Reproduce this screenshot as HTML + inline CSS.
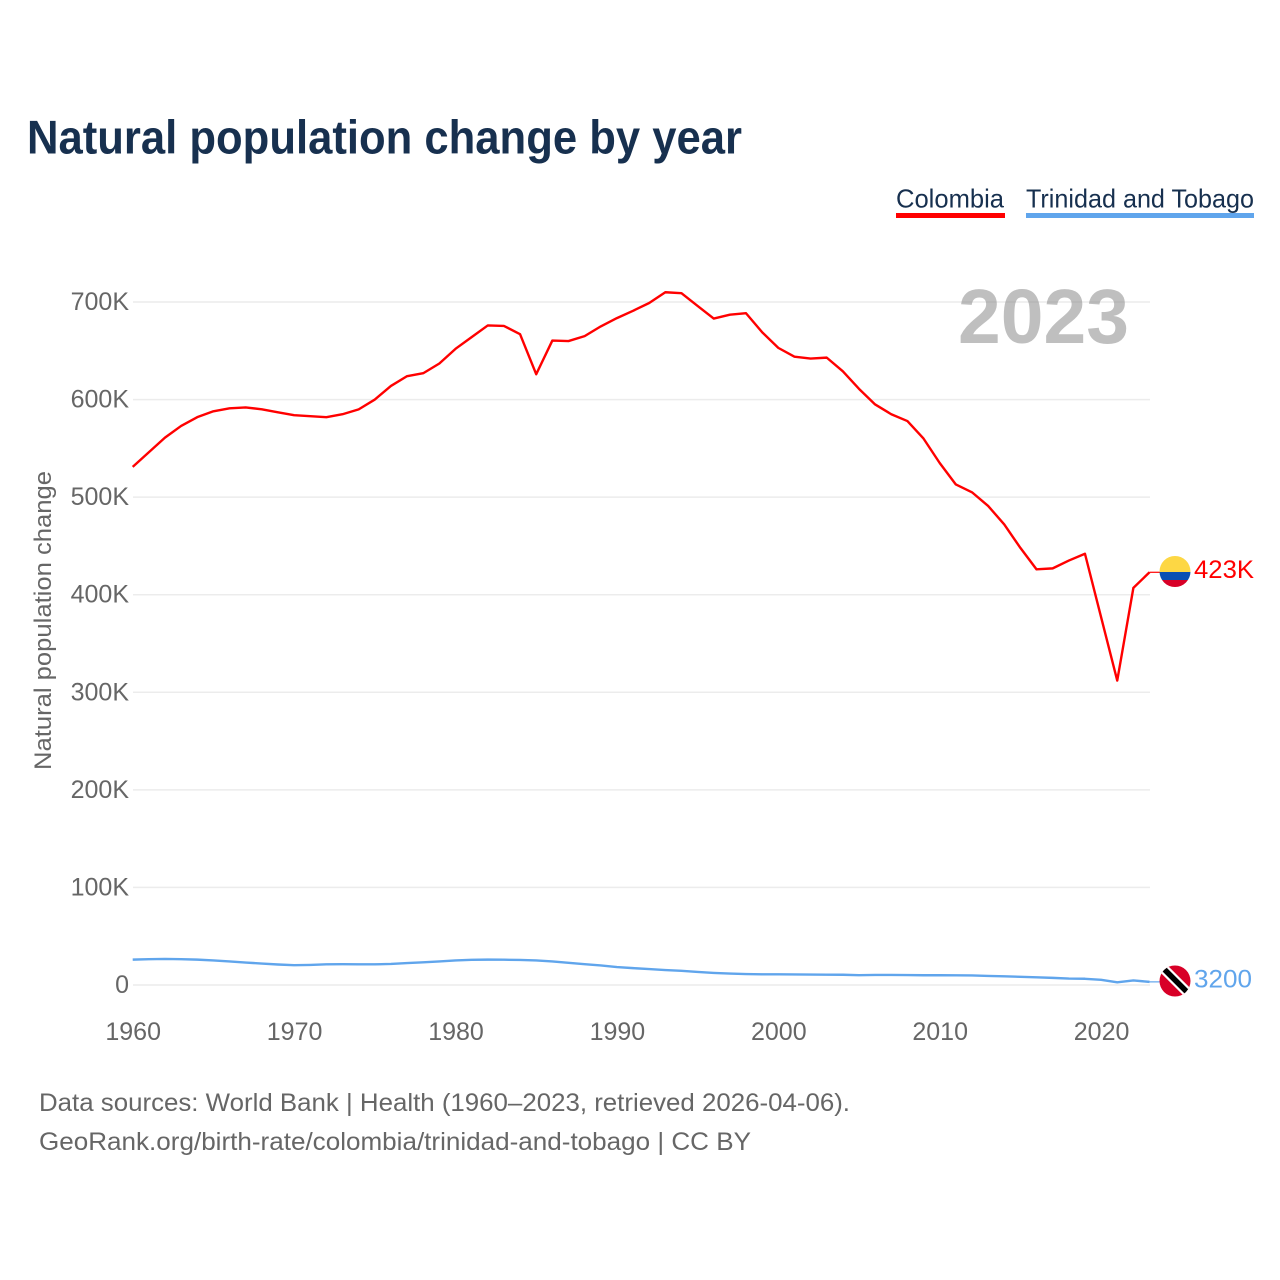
<!DOCTYPE html>
<html lang="en">
<head>
<meta charset="utf-8">
<title>Natural population change by year</title>
<style>
html,body{margin:0;padding:0;background:#fff;width:1280px;height:1280px;overflow:hidden}
svg{display:block}
text{font-family:"Liberation Sans",sans-serif}
.tick{font-size:25px;fill:#666}
</style>
</head>
<body>
<svg id="chart" width="1280" height="1280" viewBox="0 0 1280 1280" xmlns="http://www.w3.org/2000/svg">
  <defs>
    <clipPath id="clip-co"><circle cx="1175" cy="571.5" r="15.5"/></clipPath>
    <clipPath id="clip-tt"><circle cx="1175" cy="981" r="15.5"/></clipPath>
  </defs>
  <text x="27" y="153.5" font-size="47" font-weight="700" fill="#17304f" textLength="715" lengthAdjust="spacingAndGlyphs">Natural population change by year</text>

  <g id="grid"></g>
  <g id="yticks"></g>
  <g id="xticks"></g>

  <text transform="translate(51,770) rotate(-90)" font-size="24" fill="#666" textLength="299" lengthAdjust="spacingAndGlyphs">Natural population change</text>

  <text x="958" y="343" font-size="77" font-weight="700" fill="#808080" fill-opacity="0.5" textLength="171" lengthAdjust="spacingAndGlyphs">2023</text>

  <g>
    <text x="896" y="207.5" font-size="26" fill="#17304f" textLength="108" lengthAdjust="spacingAndGlyphs">Colombia</text>
    <rect x="896" y="213" width="109" height="5" fill="#ff0000"/>
    <text x="1026" y="207.5" font-size="26" fill="#17304f" textLength="228" lengthAdjust="spacingAndGlyphs">Trinidad and Tobago</text>
    <rect x="1026" y="213" width="228" height="5" fill="#60a5ec"/>
  </g>

  <path id="line-colombia" fill="none" stroke="#ff0000" stroke-width="2.4" stroke-linejoin="round"/>
  <path id="line-trinidad" fill="none" stroke="#60a5ec" stroke-width="2.4" stroke-linejoin="round"/>
  <path id="connector-colombia" fill="none" stroke="#ff0000" stroke-width="1.2"/>
  <path id="connector-trinidad" fill="none" stroke="#60a5ec" stroke-width="1.2"/>

  <g clip-path="url(#clip-co)">
    <rect x="1159" y="555" width="32" height="17" fill="#fdd744"/>
    <rect x="1159" y="572" width="32" height="8" fill="#0a50b4"/>
    <rect x="1159" y="580" width="32" height="9" fill="#d80027"/>
  </g>
  <g clip-path="url(#clip-tt)">
    <rect x="1159" y="965" width="32" height="32" fill="#d80027"/>
    <line x1="1163" y1="968" x2="1187" y2="992" stroke="#fff" stroke-width="10"/>
    <line x1="1163" y1="968" x2="1187" y2="992" stroke="#000" stroke-width="5.5"/>
  </g>

  <text id="value-colombia" x="1194" y="578" font-size="25" fill="#ff0000" textLength="60" lengthAdjust="spacingAndGlyphs"></text>
  <text id="value-trinidad" x="1194" y="987.5" font-size="25" fill="#60a5ec" textLength="58" lengthAdjust="spacingAndGlyphs"></text>

  <text x="39" y="1111" font-size="25" fill="#666" textLength="811" lengthAdjust="spacingAndGlyphs">Data sources: World Bank | Health (1960–2023, retrieved 2026-04-06).</text>
  <text x="39" y="1150" font-size="25" fill="#666" textLength="712" lengthAdjust="spacingAndGlyphs">GeoRank.org/birth-rate/colombia/trinidad-and-tobago | CC BY</text>
</svg>
<script>
const firstYear = 1960;
const xTickYears = [1960, 1970, 1980, 1990, 2000, 2010, 2020];
const yTickValues = [0, 100, 200, 300, 400, 500, 600, 700];
const yTickLabels = ["0", "100K", "200K", "300K", "400K", "500K", "600K", "700K"];
const colombiaValues = [531,546,561,573,582,588,591,592,590,587,584,583,582,585,590,600,614,624,627,637,652,664,676,675.5,667,626,660.5,660,665,675,683.5,691,699,710,709,696,683,687,688.5,669,653,644,642,643,629,611,595,585,578,560,535,513,505,491,472,448,426,427,435,442,377,312,407,423];
const trinidadValues = [26,26.5,26.7,26.5,26,25.2,24.2,23,22,21,20.3,20.6,21.2,21.3,21.2,21.2,21.6,22.5,23.2,24.2,25.2,25.8,26,25.9,25.7,25.2,24.2,22.7,21.3,20,18.4,17.3,16.3,15.3,14.5,13.4,12.4,11.7,11.2,11,10.9,10.8,10.7,10.6,10.5,10.1,10.3,10.3,10.2,10,10,9.9,9.8,9.3,8.9,8.4,7.9,7.3,6.6,6.4,5.3,2.7,4.7,3.2];
const colombiaEndLabel = "423K";
const trinidadEndLabel = "3200";

function xScale(year) { return 132.7 + (year - 1960) * 16.14; }
function yScale(value) { return 985 - value * 0.9757; }
function linePath(values) {
  return values.map(function (v, i) {
    return (i ? "L" : "M") + xScale(firstYear + i).toFixed(2) + " " + yScale(v).toFixed(2);
  }).join("");
}
const NS = "http://www.w3.org/2000/svg";
const grid = document.getElementById("grid");
const yticks = document.getElementById("yticks");
const xticks = document.getElementById("xticks");

yTickValues.forEach(function (v, i) {
  const line = document.createElementNS(NS, "line");
  
  
  line.setAttribute("x1", 133);
  line.setAttribute("x2", 1150);
  line.setAttribute("y1", yScale(v));
  line.setAttribute("y2", yScale(v));
  line.setAttribute("stroke", "#ececec");
  line.setAttribute("stroke-width", "1.5");
  grid.appendChild(line);

  const t = document.createElementNS(NS, "text");
  
  
  t.setAttribute("class", "tick");
  t.setAttribute("x", 129);
  t.setAttribute("y", yScale(v) + 8);
  t.setAttribute("text-anchor", "end");
  t.textContent = yTickLabels[i];
  yticks.appendChild(t);
});

xTickYears.forEach(function (year) {
  const t = document.createElementNS(NS, "text");
  
  
  t.setAttribute("class", "tick");
  t.setAttribute("x", xScale(year) + 0.5);
  t.setAttribute("y", 1040);
  t.setAttribute("text-anchor", "middle");
  t.textContent = year;
  xticks.appendChild(t);
});

document.getElementById("line-colombia").setAttribute("d", linePath(colombiaValues));
document.getElementById("line-trinidad").setAttribute("d", linePath(trinidadValues));

const lastYear = firstYear + colombiaValues.length - 1;
const lastCo = colombiaValues[colombiaValues.length - 1];
const lastTt = trinidadValues[trinidadValues.length - 1];
document.getElementById("connector-colombia").setAttribute("d", "M" + xScale(lastYear) + " " + yScale(lastCo) + "H1160");
document.getElementById("connector-trinidad").setAttribute("d", "M" + xScale(lastYear) + " " + yScale(lastTt) + "H1160");
document.getElementById("value-colombia").textContent = colombiaEndLabel;
document.getElementById("value-trinidad").textContent = trinidadEndLabel;
</script>
</body>
</html>
